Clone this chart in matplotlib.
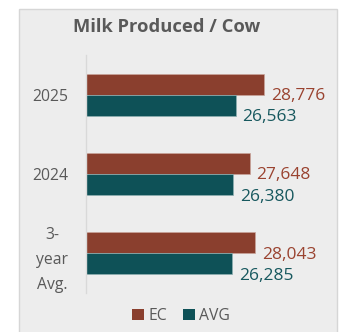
import matplotlib
matplotlib.use("Agg")
import matplotlib.pyplot as plt
from matplotlib.patches import Rectangle
from matplotlib.transforms import offset_copy

categories = ["2025", "2024", "3-\nyear\nAvg."]
ec_values = [28776, 27648, 28043]
avg_values = [26563, 26380, 26285]
series_names = ["EC", "AVG"]

EC_COLOR = "#8a3f2e"
AVG_COLOR = "#0e5157"
EC_TEXT = "#9a4330"
AVG_TEXT = "#17585e"
GRAY = "#595959"
FONT = "Open Sans"

W, H = 345, 332
fig = plt.figure(figsize=(W / 100, H / 100), dpi=100)
fig.patch.set_facecolor("white")

# panel
fig.patches.append(Rectangle((19 / W, -0.01), (337 - 19) / W, 1 - 9 / H + 0.01,
                             transform=fig.transFigure, facecolor="#ededed",
                             edgecolor="#d6d6d6", linewidth=1.0, zorder=-5))

fig.text(167 / W, 1 - 27 / H, "Milk Produced / Cow", ha="center", va="center",
         fontsize=13.2, fontweight="bold", color=GRAY, family=FONT)

left, right = 86, 280
top, bottom = 55, 293
ax = fig.add_axes([left / W, 1 - bottom / H, (right - left) / W, (bottom - top) / H])
ax.set_zorder(2)
ax.set_facecolor("none")
ax.set_xlim(15000, 30000)
n = len(categories)
ax.set_ylim(n - 0.5, -0.5)

bh = 0.265
ys = list(range(n))
ax.barh([y - bh / 2 for y in ys], [v - 15000 for v in ec_values], left=15000, height=bh,
        color=EC_COLOR, edgecolor="#c9a49b", linewidth=0.5, label=series_names[0])
ax.barh([y + bh / 2 for y in ys], [v - 15000 for v in avg_values], left=15000, height=bh,
        color=AVG_COLOR, edgecolor="#8fb0b2", linewidth=0.5, label=series_names[1])

for y, v in zip(ys, ec_values):
    tr = offset_copy(ax.transData, fig=fig, x=7, y=-12, units="dots")
    ax.text(v, y - bh / 2, f"{v:,}", transform=tr, ha="left", va="center",
            fontsize=12.5, color=EC_TEXT, family=FONT, clip_on=False)
for y, v in zip(ys, avg_values):
    tr = offset_copy(ax.transData, fig=fig, x=7, y=-12, units="dots")
    ax.text(v, y + bh / 2, f"{v:,}", transform=tr, ha="left", va="center",
            fontsize=12.5, color=AVG_TEXT, family=FONT, clip_on=False)

ax.set_yticks(ys)
ax.set_yticklabels(categories, fontsize=11.3, color=GRAY, family=FONT,
                   linespacing=1.75, multialignment="center")
ax.tick_params(axis="y", length=0, pad=13)
ax.set_xticks([])
for s in ["top", "right", "bottom"]:
    ax.spines[s].set_visible(False)
ax.spines["left"].set_color("#d9d9d9")
ax.spines["left"].set_linewidth(1.0)

handles, labels = ax.get_legend_handles_labels()
leg = fig.legend(handles, labels, loc="center", bbox_to_anchor=(181 / W, 1 - 316 / H),
                 ncol=2, frameon=False, handlelength=0.75, handleheight=0.75,
                 handletextpad=0.3, columnspacing=1.0,
                 prop={"family": FONT, "size": 11.3})
for t in leg.get_texts():
    t.set_color(GRAY)
for h in leg.legend_handles:
    h.set_edgecolor("none")

fig.savefig("out.png", dpi=100)
